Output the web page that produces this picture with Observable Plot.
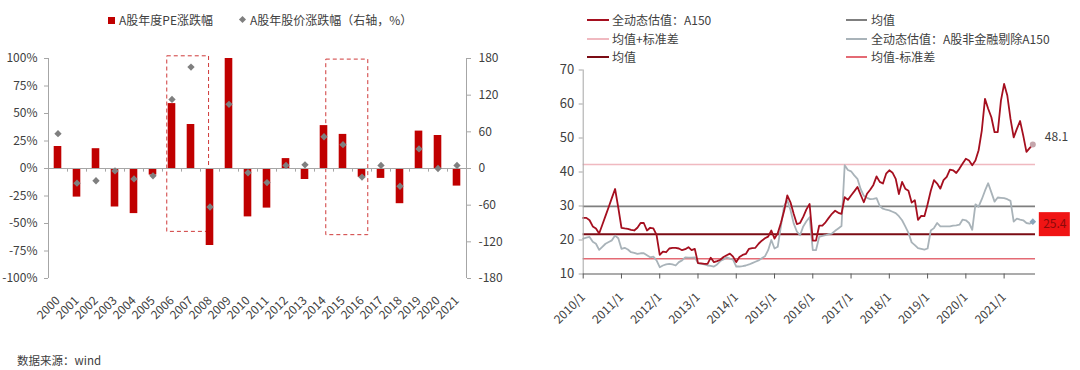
<!DOCTYPE html>
<html>
<head>
<meta charset="utf-8">
<script src="https://cdn.jsdelivr.net/npm/d3@7"></script>
<script src="https://cdn.jsdelivr.net/npm/@observablehq/plot@0.6"></script>
<style>
  body { margin: 0; background: #fff; font-family: "Noto Sans CJK SC", "Noto Sans", sans-serif; color: #404040; }
  #root { position: relative; width: 1080px; height: 370px; overflow: hidden; background: #fff; }
  .lg { position: absolute; font-size: 12px; line-height: 14px; white-space: nowrap; color: #404040; }
  .sw { position: absolute; }
  #leftChart, #rightChart { position: absolute; }
  #leftChart { left: 0; top: 40px; }
  #rightChart { left: 540px; top: 60px; }
</style>
</head>
<body>
<div id="root">
  <!-- left legend -->
  <div class="sw" style="left:108px;top:17px;width:7px;height:7px;background:#c00000"></div>
  <div class="lg" style="left:119px;top:13px">A股年度PE涨跌幅</div>
  <div class="sw" style="left:239.5px;top:17px;width:5px;height:5px;background:#7f7f7f;transform:rotate(45deg)"></div>
  <div class="lg" style="left:250px;top:13px">A股年股价涨跌幅（右轴，%）</div>
  <!-- right legend -->
  <div class="sw" style="left:587px;top:19px;width:22px;height:2px;background:#a50f1f"></div>
  <div class="lg" style="left:612px;top:13px">全动态估值：A150</div>
  <div class="sw" style="left:846px;top:19px;width:21px;height:2px;background:#7f7f7f"></div>
  <div class="lg" style="left:871px;top:13px">均值</div>
  <div class="sw" style="left:587px;top:37.5px;width:22px;height:2px;background:#f0b9c0"></div>
  <div class="lg" style="left:612px;top:31.5px">均值+标准差</div>
  <div class="sw" style="left:846px;top:37.5px;width:21px;height:2px;background:#a9b3b9"></div>
  <div class="lg" style="left:871px;top:31.5px">全动态估值：A股非金融剔除A150</div>
  <div class="sw" style="left:587px;top:56px;width:22px;height:2px;background:#7b0c14"></div>
  <div class="lg" style="left:612px;top:50px">均值</div>
  <div class="sw" style="left:846px;top:56px;width:21px;height:2px;background:#e46a74"></div>
  <div class="lg" style="left:871px;top:50px">均值-标准差</div>
  <div id="leftChart"></div>
  <div id="rightChart"></div>
  <div class="lg" style="left:17px;top:353px;font-size:11.5px">数据来源：wind</div>
</div>
<script>
// ---------- Left chart data ----------
const years = [2000, 2001, 2002, 2003, 2004, 2005, 2006, 2007, 2008, 2009, 2010,
               2011, 2012, 2013, 2014, 2015, 2016, 2017, 2018, 2019, 2020, 2021];
const peChange = [20, -26, 18, -35, -41, -6, 59, 40, -70, 100, -44,
                  -36, 9, -10, 39, 31, -8, -9, -32, 34, 30, -16];
const priceChange = [57, -24, -20, -4, -17, -12, 113, 166, -63, 105, -7,
                     -23, 5, 6, 52, 39, -14, 5, -29, 32, 0, 5];
const leftTicks = [-100, -75, -50, -25, 0, 25, 50, 75, 100];
const rightTicks = [-180, -120, -60, 0, 60, 120, 180];
const highlightFrom = [2005.75, 2014.12];
const highlightTo = [2007.95, 2016.33];
const highlightTop = [102, 99];
const highlightBottom = [-57.6, -60.6];

// ---------- Right chart data (monthly, from 2010/1) ----------
const startYear = 2010;
const a150 = [
  26.5, 26.5, 25.8, 24.0, 23.4, 21.9, 24.5, 27.1, 29.7, 32.4, 35.0, 29.5,
  23.6, 23.4, 23.3, 23.0, 22.8, 23.6, 25.0, 25.0, 22.8, 23.6, 23.4, 21.5,
  15.6, 16.6, 16.4, 17.5, 17.7, 17.7, 17.5, 17.0, 17.3, 17.9, 17.0, 17.4,
  13.2, 13.1, 13.0, 13.0, 14.8, 13.5, 13.8, 14.2, 15.0, 15.5, 16.0, 15.1,
  13.5, 15.0, 15.6, 15.9, 17.4, 17.6, 17.7, 18.9, 19.8, 20.5, 21.0, 22.8,
  20.4, 22.0, 25.0, 28.5, 33.1, 31.1, 27.7, 24.7, 25.0, 26.8, 29.0, 30.6,
  19.8, 19.8, 24.2, 24.2, 25.2, 26.5, 27.7, 28.6, 28.0, 27.7, 32.6, 31.8,
  33.1, 34.3, 35.6, 33.3, 31.1, 33.6, 34.8, 36.2, 38.7, 37.1, 36.6, 39.5,
  40.5, 39.8, 38.0, 33.5, 37.1, 35.1, 34.5, 31.0, 31.7, 25.9, 27.1, 27.0,
  30.5, 34.5, 37.6, 36.6, 35.1, 37.6, 38.6, 40.7, 40.5, 39.7, 41.0, 42.5,
  43.9, 43.4, 42.0, 43.4, 46.4, 52.2, 61.5, 58.6, 56.1, 51.7, 51.7, 61.0,
  65.9, 62.5, 55.6, 50.2, 52.7, 55.0, 50.7, 45.9, 47.0, 48.1
];
const nonFinExA150 = [
  20.4, 20.7, 20.9, 19.5, 18.9, 17.1, 18.0, 18.9, 19.4, 19.9, 21.3, 20.5,
  17.4, 17.7, 17.2, 16.4, 16.2, 15.9, 16.1, 16.1, 15.5, 14.9, 15.1, 14.0,
  12.0, 12.5, 12.8, 13.0, 12.8, 12.5, 13.5, 14.0, 14.9, 14.8, 14.8, 14.9,
  13.2, 13.0, 12.8, 12.5, 12.4, 12.2, 12.8, 13.8, 14.3, 14.9, 14.5, 14.2,
  12.2, 12.2, 12.3, 12.5, 12.8, 13.2, 13.6, 14.0, 14.6, 15.2, 17.0, 20.0,
  17.5, 18.0, 24.0, 30.0, 31.7, 28.8, 24.9, 22.5, 21.4, 24.0, 25.5, 26.7,
  17.0, 17.0, 20.9, 21.2, 21.4, 21.7, 21.9, 22.7, 23.4, 24.1, 42.0, 40.6,
  40.2, 39.0, 38.0, 35.0, 33.0, 32.4, 32.0, 32.1, 32.3, 30.0, 29.2, 28.9,
  28.7, 28.3, 27.9, 27.0, 25.8, 24.0, 22.1, 19.3, 18.5, 17.6, 17.4, 17.2,
  17.5, 22.8, 23.5, 25.0, 24.0, 24.0, 24.0, 24.0, 24.2, 24.3, 24.5, 26.0,
  25.8, 25.0, 23.0, 30.5, 29.8, 32.0, 34.5, 36.7, 34.0, 31.3, 32.5, 32.4,
  32.3, 32.0, 31.5, 25.4, 26.3, 26.0, 25.8, 25.0, 24.8, 25.4
];
const a150Mean = 29.9;
const a150MeanPlusStd = 42.2;
const nonFinMean = 21.7;
const nonFinMeanMinusStd = 14.5;
const rightYTicks = [10, 20, 30, 40, 50, 60, 70];
const rightXTicks = [2010, 2011, 2012, 2013, 2014, 2015, 2016, 2017, 2018, 2019, 2020, 2021];

const font = '"Noto Sans CJK SC", "Noto Sans", sans-serif';

// ---------- Left chart ----------
const yearRows = years.map((y, i) => ({year: y, pe: peChange[i], price: priceChange[i]}));
const boxes = highlightFrom.map((f, i) => ({from: f, to: highlightTo[i], top: highlightTop[i], bottom: highlightBottom[i]}));
const boundaries = years.slice(1).map(y => y - 0.5);
const toLeft = v => v * 100 / 180;

const left = Plot.plot({
  width: 540, height: 300,
  marginLeft: 48, marginRight: 74, marginTop: 18, marginBottom: 62,
  x: {domain: [1999.5, 2021.5], label: null},
  y: {domain: [-100, 100], label: null},
  style: {fontFamily: font, fontSize: "12px", color: "#404040", background: "transparent", overflow: "visible"},
  marks: [
    Plot.rect(boxes, {x1: "from", x2: "to", y1: "bottom", y2: "top", fill: "none", stroke: "#cf3a3a", strokeWidth: 1, strokeDasharray: "4,3"}),
    Plot.rect(yearRows, {x1: d => d.year - 0.2, x2: d => d.year + 0.2, y1: 0, y2: "pe", fill: "#c00000"}),
    Plot.ruleY([0], {stroke: "#a6a6a6"}),
    Plot.ruleX(boundaries, {y1: 0, y2: -3.3, stroke: "#a6a6a6"}),
    Plot.dot(yearRows, {x: "year", y: d => toLeft(d.price), symbol: "diamond2", r: 3.3, fill: "#7f7f7f"}),
    Plot.ruleX([1999.5, 2021.5], {stroke: "#a6a6a6"}),
    Plot.axisY(leftTicks, {anchor: "left", tickSize: 4, tickPadding: 7, stroke: "#a6a6a6", fill: "#404040", fontSize: 12, tickFormat: d => d + "%"}),
    Plot.axisY(rightTicks.map(toLeft), {anchor: "right", tickSize: 4, tickPadding: 8, stroke: "#a6a6a6", fill: "#404040", fontSize: 12, tickFormat: d => String(Math.round(d * 1.8))}),
    Plot.axisX(years, {anchor: "bottom", tickRotate: -45, tickSize: 0, tickPadding: 20, fill: "#404040", fontSize: 12, tickFormat: d => String(d)})
  ]
});
document.getElementById("leftChart").appendChild(left);

// ---------- Right chart ----------
const rowsA = a150.map((v, i) => ({t: startYear + i / 12, v}));
const rowsN = nonFinExA150.map((v, i) => ({t: startYear + i / 12, v}));
const lastA = rowsA[rowsA.length - 1];
const lastN = rowsN[rowsN.length - 1];

const right = Plot.plot({
  width: 540, height: 290,
  marginLeft: 42.7, marginRight: 45, marginTop: 9.5, marginBottom: 76.5,
  x: {domain: [2010, 2021.82], label: null},
  y: {domain: [10, 70], label: null},
  style: {fontFamily: font, fontSize: "12px", color: "#404040", background: "transparent", overflow: "visible"},
  marks: [
    Plot.ruleY([a150MeanPlusStd], {stroke: "#f0b9c0", strokeWidth: 1.5}),
    Plot.ruleY([a150Mean], {stroke: "#7f7f7f", strokeWidth: 1.8}),
    Plot.ruleY([nonFinMeanMinusStd], {stroke: "#e46a74", strokeWidth: 1.5}),
    Plot.ruleY([nonFinMean], {stroke: "#7b0c14", strokeWidth: 2}),
    Plot.line(rowsN, {x: "t", y: "v", stroke: "#a9b3b9", strokeWidth: 1.8}),
    Plot.line(rowsA, {x: "t", y: "v", stroke: "#a50f1f", strokeWidth: 1.8}),
    Plot.dot([lastA], {x: "t", y: "v", r: 3, fill: "#c4a6ac"}),
    Plot.dot([lastN], {x: "t", y: "v", symbol: "diamond2", r: 3, fill: "#8aa6bc"}),
    Plot.text([lastA], {x: "t", y: "v", text: d => d.v.toFixed(1), dx: 12, dy: -7, textAnchor: "start", fill: "#404040", fontSize: 12}),
    Plot.rect([lastN], {x1: "t", x2: "t", y1: "v", y2: "v", insetLeft: -15.5, insetRight: -15.5, insetTop: -12, insetBottom: -12, dx: 22, dy: 3, fill: "#f01414"}),
    Plot.text([lastN], {x: "t", y: "v", text: d => d.v.toFixed(1), dx: 22, dy: 3, fill: "#8b0a0a", fontSize: 12}),
    Plot.ruleX([2010], {stroke: "#a6a6a6"}),
    Plot.ruleY([10], {stroke: "#595959", strokeWidth: 1.2}),
    Plot.axisY(rightYTicks, {anchor: "left", tickSize: 4, tickPadding: 5, stroke: "#a6a6a6", fill: "#404040", fontSize: 13}),
    Plot.axisX(rightXTicks, {anchor: "bottom", tickRotate: -45, tickSize: 5, tickPadding: 16, stroke: "#595959", fill: "#404040", fontSize: 12, tickFormat: d => d + "/1"})
  ]
});
document.getElementById("rightChart").appendChild(right);
</script>
</body>
</html>
